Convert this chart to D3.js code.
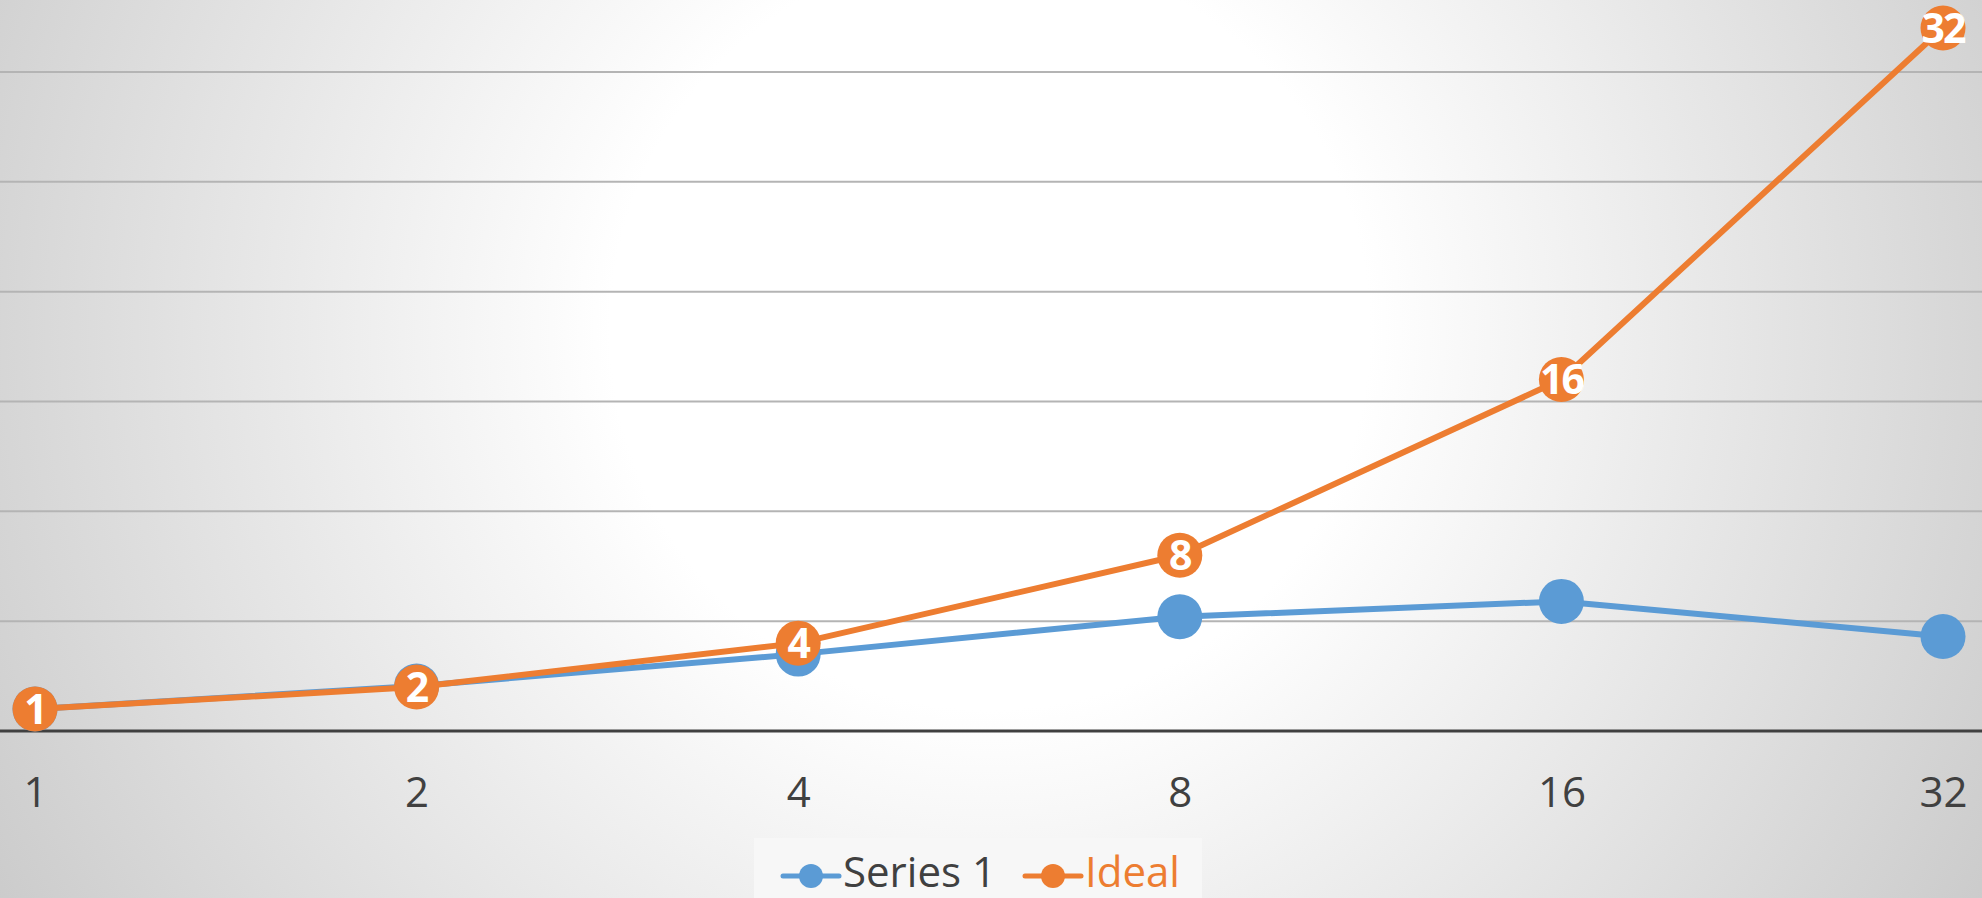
<!DOCTYPE html>
<html>
<head>
<meta charset="utf-8">
<script src="https://cdn.jsdelivr.net/npm/d3@7"></script>
<style>
  html, body { margin: 0; padding: 0; overflow: hidden; }
  #chart-container svg { display: block; }
</style>
</head>
<body>
<div id="chart-container"></div>
<script>
// Data
var categories  = ["1", "2", "4", "8", "16", "32"];
var series1     = [1, 2.05, 3.5, 5.2, 5.9, 4.3];
var ideal       = [1, 2, 4, 8, 16, 32];
var yTicks      = [0, 5, 10, 15, 20, 25, 30];
var legendNames = ["Series 1", "Ideal"];

// dimensions
var svgWidth  = 1982;
var svgHeight = 898;

var colors = { s1: "#5B9BD5", ideal: "#ED7D31" };

var svg = d3.select("#chart-container")
    .append("svg")
        .attr("width", svgWidth)
        .attr("height", svgHeight);

// radial background like the office style
var defs = svg.append("defs");
var grad = defs.append("radialGradient")
    .attr("id", "bg")
    .attr("gradientUnits", "userSpaceOnUse")
    .attr("cx", 990).attr("cy", 330).attr("r", 1150);
grad.append("stop").attr("offset", "0").attr("stop-color", "#ffffff");
grad.append("stop").attr("offset", "0.33").attr("stop-color", "#ffffff");
grad.append("stop").attr("offset", "1").attr("stop-color", "#cbcbcb");

svg.append("rect")
    .attr("width", svgWidth)
    .attr("height", svgHeight)
    .attr("fill", "url(#bg)");

// X scale (evenly spaced categories)
var x = d3.scalePoint()
    .domain(categories)
    .range([35, 1943]);

// Y scale (top of plot is cut off above 30)
var y = d3.scaleLinear()
    .domain([0, 30])
    .range([731, 72]);

// gridlines
svg.append("g")
    .selectAll("line")
    .data(yTicks.filter(function(d) { return d > 0; }))
    .enter()
    .append("line")
        .attr("x1", 0)
        .attr("x2", svgWidth)
        .attr("y1", function(d) { return y(d); })
        .attr("y2", function(d) { return y(d); })
        .attr("stroke", "#b4b4b4")
        .attr("stroke-width", 2);

// x axis
var xAxis = d3.axisBottom(x).tickSize(0).tickPadding(46);
var xAxisG = svg.append("g")
    .attr("transform", "translate(0," + y(0) + ")")
    .call(xAxis);
xAxisG.select(".domain").remove();
xAxisG.selectAll("text")
    .attr("fill", "#404040")
    .style("font-family", "'Open Sans', sans-serif")
    .style("font-size", "42px");

svg.append("line")
    .attr("x1", 0)
    .attr("x2", svgWidth)
    .attr("y1", y(0))
    .attr("y2", y(0))
    .attr("stroke", "#404040")
    .attr("stroke-width", 3);

var line = d3.line()
    .x(function(d, i) { return x(categories[i]); })
    .y(function(d) { return y(d); });

// draw one series: line then markers
function drawSeries(values, color) {
    var g = svg.append("g");
    g.append("path")
        .datum(values)
        .attr("d", line)
        .attr("fill", "none")
        .attr("stroke", color)
        .attr("stroke-width", 6)
        .attr("stroke-linejoin", "round");
    g.selectAll("circle")
        .data(values)
        .enter()
        .append("circle")
            .attr("cx", function(d, i) { return x(categories[i]); })
            .attr("cy", function(d) { return y(d); })
            .attr("r", 22.5)
            .attr("fill", color);
    return g;
}

drawSeries(series1, colors.s1);
var idealG = drawSeries(ideal, colors.ideal);

// data labels on the ideal series
idealG.selectAll("text")
    .data(ideal)
    .enter()
    .append("text")
        .attr("x", function(d, i) { return x(categories[i]); })
        .attr("y", function(d) { return y(d); })
        .attr("dy", "0.36em")
        .attr("text-anchor", "middle")
        .attr("fill", "#ffffff")
        .style("font-family", "'Open Sans', sans-serif")
        .style("font-weight", "bold")
        .style("font-size", "41px")
        .style("letter-spacing", "-2px")
        .text(function(d) { return d; });

// legend
var legend = svg.append("g");
legend.append("rect")
    .attr("x", 754)
    .attr("y", 838)
    .attr("width", 448)
    .attr("height", 60)
    .attr("fill", "#f7f7f7");

var legendItems = [
    { name: legendNames[0], color: colors.s1, x: 783, textColor: "#404040" },
    { name: legendNames[1], color: colors.ideal, x: 1025, textColor: colors.ideal }
];

var li = legend.selectAll(".legendItem")
    .data(legendItems)
    .enter()
    .append("g")
        .attr("class", "legendItem")
        .attr("transform", function(d) { return "translate(" + d.x + ",876)"; });
li.append("line")
    .attr("x1", 0).attr("x2", 56)
    .attr("stroke", function(d) { return d.color; })
    .attr("stroke-width", 5)
    .attr("stroke-linecap", "round");
li.append("circle")
    .attr("cx", 28)
    .attr("r", 12)
    .attr("fill", function(d) { return d.color; });
li.append("text")
    .attr("x", 60)
    .attr("y", 11)
    .attr("fill", function(d) { return d.textColor; })
    .style("font-family", "'Open Sans', sans-serif")
    .style("font-size", "42px")
    .text(function(d) { return d.name; });
</script>
</body>
</html>
